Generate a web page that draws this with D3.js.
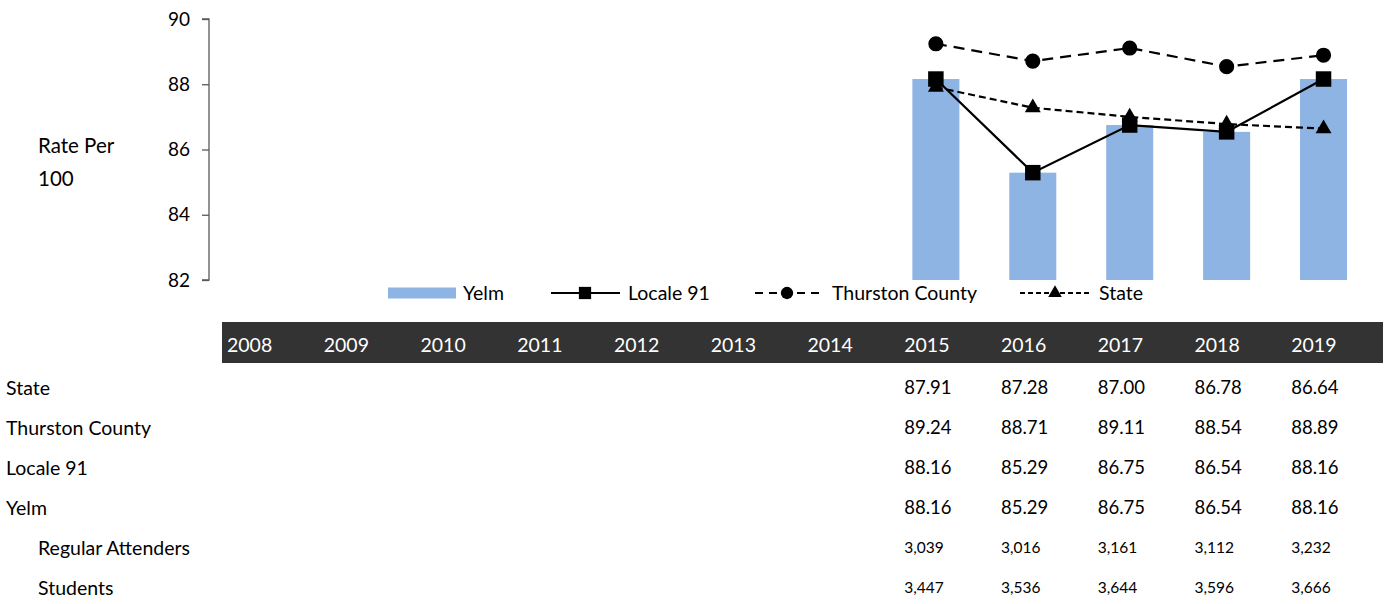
<!DOCTYPE html>
<html><head><meta charset="utf-8">
<script src="https://cdn.jsdelivr.net/npm/d3@7"></script>
<style>
body{margin:0;background:#fff;}
svg{display:block;font-family:Lato, "Open Sans", sans-serif;}
</style></head>
<body><svg id="c" width="1387" height="604"></svg>
<script>
const allYears = ["2008","2009","2010","2011","2012","2013","2014","2015","2016","2017","2018","2019"];
const dataYears = ["2015","2016","2017","2018","2019"];
const yelm = [88.16, 85.29, 86.75, 86.54, 88.16];
const locale91 = [88.16, 85.29, 86.75, 86.54, 88.16];
const thurston = [89.24, 88.71, 89.11, 88.54, 88.89];
const state = [87.91, 87.28, 87.00, 86.78, 86.64];
const regularAttenders = ["3,039","3,016","3,161","3,112","3,232"];
const students = ["3,447","3,536","3,644","3,596","3,666"];
const yTicks = [82, 84, 86, 88, 90];

const svg = d3.select("#c");
const x = d3.scaleBand().domain(allYears).range([209, 1372]).paddingInner(0.515).paddingOuter(0.2575);
const y = d3.scaleLinear().domain([82, 90]).range([280, 19]);
const cx = d => x(d) + x.bandwidth()/2;

// y axis
const yAxis = d3.axisLeft(y).tickValues(yTicks).tickSize(7).tickPadding(12).tickFormat(d3.format("d"));
const gy = svg.append("g").attr("transform","translate(209,0)").call(yAxis);
gy.select(".domain").attr("stroke","#595959").attr("stroke-width",1.3).attr("d","M-7,19H0V280H-7");
gy.selectAll(".tick line").attr("stroke","#595959").attr("stroke-width",1.3);
gy.selectAll(".tick text").attr("font-size",19).attr("fill","#000").attr("font-family","Lato");

svg.append("text").attr("x",38).attr("y",146).attr("dy","0.35em").attr("font-size",20.5).text("Rate Per");
svg.append("text").attr("x",38).attr("y",179).attr("dy","0.35em").attr("font-size",20.5).text("100");

// bars
svg.append("g").selectAll("rect").data(dataYears).join("rect")
  .attr("x", d => x(d)).attr("width", x.bandwidth())
  .attr("y", (d,i) => y(yelm[i])).attr("height", (d,i) => y(82) - y(yelm[i]))
  .attr("fill", "#8EB4E3");

const line = d3.line().x(d => cx(d[0])).y(d => y(d[1]));
const pairs = arr => dataYears.map((d,i) => [d, arr[i]]);

// State
svg.append("path").datum(pairs(state)).attr("d", line).attr("fill","none").attr("stroke","#000").attr("stroke-width",2.2).attr("stroke-dasharray","7,4");
// Thurston
svg.append("path").datum(pairs(thurston)).attr("d", line).attr("fill","none").attr("stroke","#000").attr("stroke-width",2.2).attr("stroke-dasharray","11,7");
// Locale
svg.append("path").datum(pairs(locale91)).attr("d", line).attr("fill","none").attr("stroke","#000").attr("stroke-width",2.2);

const sym = (type, size) => d3.symbol().type(type).size(size)();
svg.append("g").selectAll("path").data(pairs(state)).join("path")
  .attr("transform", d => `translate(${cx(d[0])},${y(d[1])})`).attr("d", sym(d3.symbolTriangle, 110)).attr("fill","#000");
svg.append("g").selectAll("path").data(pairs(thurston)).join("path")
  .attr("transform", d => `translate(${cx(d[0])},${y(d[1])})`).attr("d", sym(d3.symbolCircle, 180)).attr("fill","#000");
svg.append("g").selectAll("path").data(pairs(locale91)).join("path")
  .attr("transform", d => `translate(${cx(d[0])},${y(d[1])})`).attr("d", sym(d3.symbolSquare, 240)).attr("fill","#000");

// legend
const lg = svg.append("g").attr("font-size",19.5);
const ly = 293;
lg.append("rect").attr("x",388).attr("y",ly-5.5).attr("width",68).attr("height",11).attr("fill","#8EB4E3");
lg.append("text").attr("x",463).attr("y",ly).attr("dy","0.35em").text("Yelm");
lg.append("line").attr("x1",551).attr("x2",620).attr("y1",ly).attr("y2",ly).attr("stroke","#000").attr("stroke-width",2.2);
lg.append("path").attr("transform",`translate(585,${ly})`).attr("d",sym(d3.symbolSquare,150));
lg.append("text").attr("x",628).attr("y",ly).attr("dy","0.35em").text("Locale 91");
lg.append("line").attr("x1",755).attr("x2",820).attr("y1",ly).attr("y2",ly).attr("stroke","#000").attr("stroke-width",2.2).attr("stroke-dasharray","8,6");
lg.append("path").attr("transform",`translate(787,${ly})`).attr("d",sym(d3.symbolCircle,120));
lg.append("text").attr("x",832).attr("y",ly).attr("dy","0.35em").text("Thurston County");
lg.append("line").attr("x1",1020).attr("x2",1090).attr("y1",ly).attr("y2",ly).attr("stroke","#000").attr("stroke-width",2).attr("stroke-dasharray","5,3");
lg.append("path").attr("transform",`translate(1055,${ly})`).attr("d",sym(d3.symbolTriangle,80));
lg.append("text").attr("x",1099).attr("y",ly).attr("dy","0.35em").text("State");

// table
const col = d3.scaleBand().domain(allYears).range([222, 1383]);
svg.append("rect").attr("x",222).attr("y",322).attr("width",1161).attr("height",41).attr("fill","#333333");
svg.append("g").selectAll("text").data(allYears).join("text")
  .attr("x", d => col(d)+5).attr("y",345).attr("dy","0.35em").attr("fill","#fff").attr("font-size",19.5).text(d => d);

const rows = [
  {label:"State", indent:false, vals: state.map(v => v.toFixed(2)), size:18.5},
  {label:"Thurston County", indent:false, vals: thurston.map(v => v.toFixed(2)), size:18.5},
  {label:"Locale 91", indent:false, vals: locale91.map(v => v.toFixed(2)), size:18.5},
  {label:"Yelm", indent:false, vals: yelm.map(v => v.toFixed(2)), size:18.5},
  {label:"Regular Attenders", indent:true, vals: regularAttenders, size:15.5},
  {label:"Students", indent:true, vals: students, size:15.5}
];
const rowY = [388, 428, 468, 508, 548, 588];
rows.forEach((r, i) => {
  svg.append("text").attr("x", r.indent ? 38 : 6).attr("y", rowY[i]).attr("dy","0.35em").attr("font-size",19.5).text(r.label);
  svg.append("g").selectAll("text").data(r.vals).join("text")
    .attr("x", (d,j) => col(dataYears[j]) + 5).attr("y", rowY[i]).attr("dy","0.35em").attr("font-size", r.size).text(d => d);
});
</script></body></html>
